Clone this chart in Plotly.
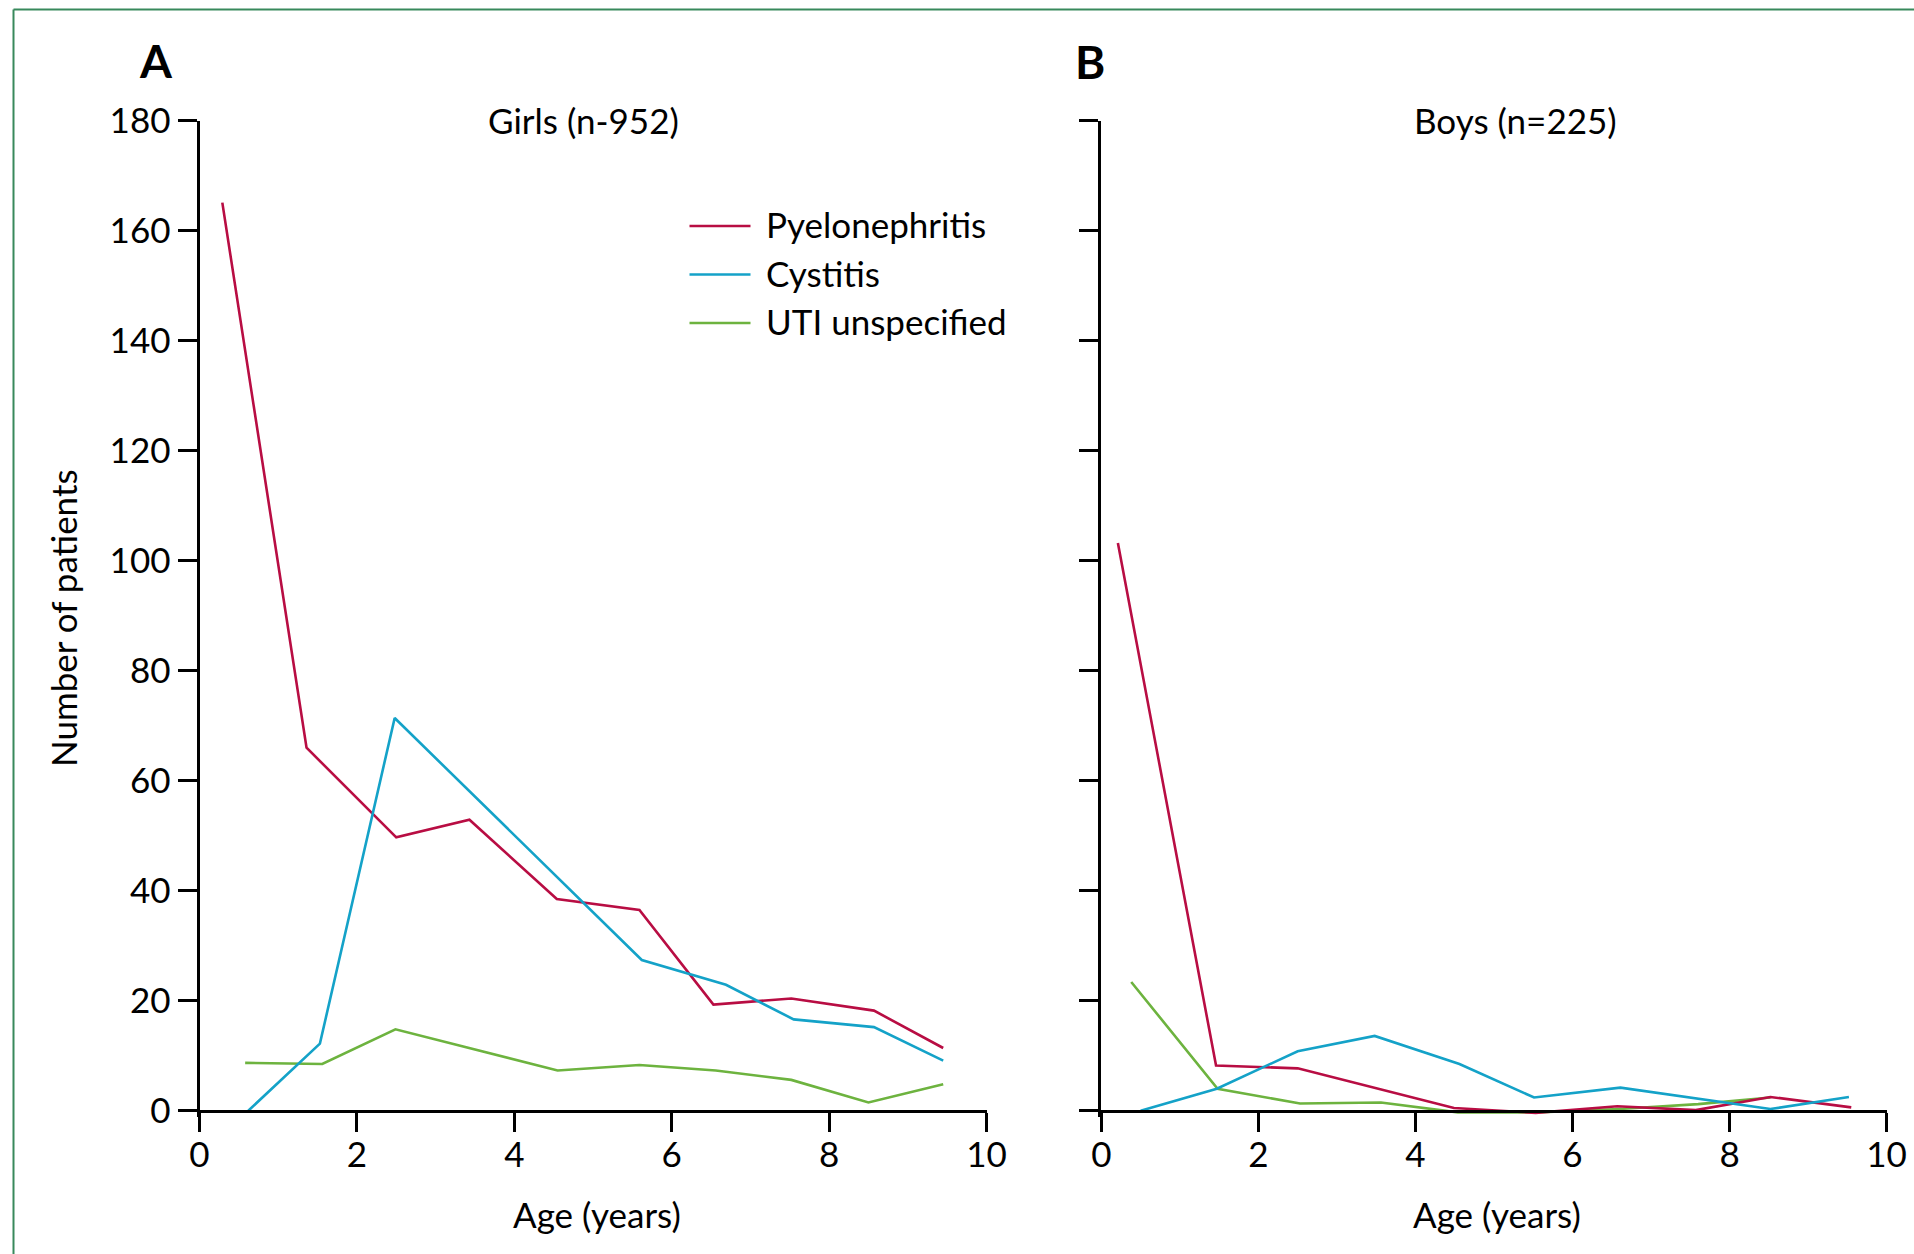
import plotly.graph_objects as go

W, H = 1914, 1254
FONT = "Lato"

# ---- data -------------------------------------------------------------
series_names = ["Pyelonephritis", "Cystitis", "UTI unspecified"]
series_colors = ["#B80D43", "#14A2C8", "#6DB33F"]

panel_letters = ["A", "B"]
panel_titles = ["Girls (n-952)", "Boys (n=225)"]
x_title = "Age (years)"
y_title = "Number of patients"

x_ticks = [0, 2, 4, 6, 8, 10]
y_ticks = [0, 20, 40, 60, 80, 100, 120, 140, 160, 180]

# Girls
girls_pyelo_age = [0.29, 1.36, 2.50, 3.43, 4.54, 5.59, 6.53, 7.52, 8.57, 9.45]
girls_pyelo_n = [165.1, 66.0, 49.7, 52.9, 38.5, 36.5, 19.3, 20.4, 18.2, 11.4]
girls_cyst_age = [0.62, 1.53, 2.48, 5.62, 6.69, 7.55, 8.57, 9.45]
girls_cyst_n = [0.0, 12.2, 71.4, 27.4, 22.9, 16.6, 15.2, 9.1]
girls_uti_age = [0.58, 1.56, 2.49, 4.55, 5.59, 6.56, 7.52, 8.50, 9.45]
girls_uti_n = [8.7, 8.5, 14.8, 7.3, 8.3, 7.3, 5.6, 1.5, 4.8]

# Boys
boys_pyelo_age = [0.21, 1.46, 2.50, 4.49, 5.53, 6.57, 7.57, 8.52, 9.55]
boys_pyelo_n = [103.2, 8.2, 7.7, 0.5, -0.4, 0.8, 0.1, 2.5, 0.6]
boys_cyst_age = [0.50, 1.47, 2.50, 3.48, 4.56, 5.51, 6.61, 8.52, 9.52]
boys_cyst_n = [0.0, 4.0, 10.8, 13.6, 8.5, 2.4, 4.2, 0.3, 2.5]
boys_uti_age = [0.38, 1.48, 2.53, 3.56, 4.54, 5.54, 6.60, 7.60, 8.52]
boys_uti_n = [23.4, 4.0, 1.3, 1.5, -0.3, -0.3, 0.3, 1.2, 2.4]

girls = [(girls_pyelo_age, girls_pyelo_n), (girls_cyst_age, girls_cyst_n),
         (girls_uti_age, girls_uti_n)]
boys = [(boys_pyelo_age, boys_pyelo_n), (boys_cyst_age, boys_cyst_n),
        (boys_uti_age, boys_uti_n)]

# ---- layout geometry (pixels) ----------------------------------------
def px(x):
    return x / W


def py(y):
    return 1 - y / H


Y_MIN, Y_MAX = -1.2, 180
Y_ZERO_PX, Y_TOP_PX = 1110.7, 120.7
per_unit = (Y_ZERO_PX - Y_TOP_PX) / Y_MAX
y_bottom_px = Y_ZERO_PX - Y_MIN * per_unit
y_domain = [py(y_bottom_px), py(Y_TOP_PX)]
x_axis_pos = py(Y_ZERO_PX)

x_domains = [[px(199.5), px(986.5)], [px(1101.4), px(1886.6)]]

fig = go.Figure()

# draw order: green under red under blue
draw_order = [2, 0, 1]
for p, data in enumerate([girls, boys]):
    xa = "x" if p == 0 else "x2"
    ya = "y" if p == 0 else "y2"
    for i in draw_order:
        ages, counts = data[i]
        fig.add_trace(go.Scatter(
            x=ages, y=counts, mode="lines", name=series_names[i],
            line=dict(color=series_colors[i], width=2.6),
            xaxis=xa, yaxis=ya, showlegend=False, hoverinfo="x+y+name",
        ))

axis_common = dict(
    showgrid=False, zeroline=False, showline=True, linecolor="black",
    linewidth=3, ticks="outside", ticklen=19, tickwidth=3,
    tickcolor="black", tickfont=dict(family=FONT, size=35, color="black"),
    automargin=False,
)

layout = dict(
    width=W, height=H,
    margin=dict(l=0, r=0, t=0, b=0, pad=0, autoexpand=False),
    paper_bgcolor="white", plot_bgcolor="white",
    showlegend=False,
)
for p in range(2):
    sx = "" if p == 0 else "2"
    layout["xaxis" + sx] = dict(
        axis_common, domain=x_domains[p], range=[0, 10], tickvals=x_ticks,
        anchor="free", position=x_axis_pos, side="bottom",
        ticklabelstandoff=-7,
    )
    layout["yaxis" + sx] = dict(
        axis_common, domain=y_domain, range=[Y_MIN, Y_MAX], tickvals=y_ticks,
        anchor="x" + sx, showticklabels=(p == 0),
    )
fig.update_layout(**layout)

annotations = []


def text_at(x, y, s, size=35, bold=False, anchor="center", angle=0):
    annotations.append(dict(
        x=px(x), y=py(y), xref="paper", yref="paper", text=s,
        showarrow=False, xanchor=anchor, yanchor="middle", textangle=angle,
        font=dict(family=FONT, size=size, color="black",
                  weight=700 if bold else 400),
    ))


# panel letters and titles
text_at(156, 60, panel_letters[0], size=46, bold=True)
text_at(1090, 61, panel_letters[1], size=46, bold=True)
text_at(583.5, 120, panel_titles[0])
text_at(1515.5, 120, panel_titles[1])

# axis titles
text_at(597, 1214, x_title)
text_at(1497, 1214, x_title)
text_at(63, 618, y_title, angle=-90)

# legend
shapes = []
legend_rows = [226, 274.5, 323]
for i, name in enumerate(series_names):
    shapes.append(dict(
        type="line", xref="paper", yref="paper",
        x0=px(689.5), x1=px(750.5), y0=py(legend_rows[i]), y1=py(legend_rows[i]),
        line=dict(color=series_colors[i], width=2.6),
    ))
    text_at(764, legend_rows[i] - 1.5, name, anchor="left")

# outer frame (top and left edges)
frame_color = "#38895C"
shapes.append(dict(type="line", xref="paper", yref="paper",
                   x0=px(13.5), x1=1.0, y0=py(9.5), y1=py(9.5),
                   line=dict(color=frame_color, width=2)))
shapes.append(dict(type="line", xref="paper", yref="paper",
                   x0=px(13.5), x1=px(13.5), y0=py(9.5), y1=0.0,
                   line=dict(color=frame_color, width=2)))

fig.update_layout(annotations=annotations, shapes=shapes)

# page without body margins so the figure fills the window exactly
page_js = (
    "document.documentElement.style.margin='0';"
    "document.documentElement.style.padding='0';"
    "document.documentElement.style.overflow='hidden';"
    "document.body.style.margin='0';"
    "document.body.style.padding='0';"
    "document.body.style.overflow='hidden';"
)
fig.write_html("out.html", post_script=page_js)
